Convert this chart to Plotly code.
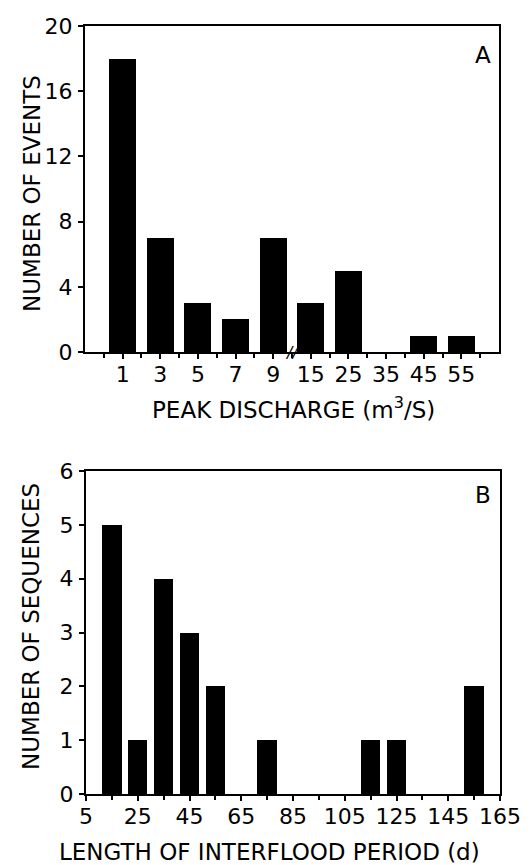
import plotly.graph_objects as go

# ---- Data ----
discharge_labels = ["1", "3", "5", "7", "9", "15", "25", "35", "45", "55"]
discharge_counts = [18, 7, 3, 2, 7, 3, 5, 0, 1, 1]

interflood_days = [15, 25, 35, 45, 55, 65, 75, 85, 95, 105, 115, 125, 135, 145, 155]
interflood_counts = [5, 1, 4, 3, 2, 0, 1, 0, 0, 0, 1, 1, 0, 0, 2]

yticks_a = [0, 4, 8, 12, 16, 20]
yticks_b = [0, 1, 2, 3, 4, 5, 6]
xticks_b = [5, 25, 45, 65, 85, 105, 125, 145, 165]

FONT = "DejaVu Sans"
W, H = 530, 865

pos_a = list(range(len(discharge_labels)))

fig = go.Figure()
fig.add_trace(go.Bar(x=pos_a, y=discharge_counts, width=0.72,
                     marker=dict(color="black", line=dict(width=0)),
                     xaxis="x", yaxis="y", showlegend=False))
fig.add_trace(go.Bar(x=interflood_days, y=interflood_counts, width=7.5,
                     marker=dict(color="black", line=dict(width=0)),
                     xaxis="x2", yaxis="y2", showlegend=False))

def px_x(p):
    return p / W

def px_y(p):
    return 1 - p / H

axis_common = dict(showline=True, linecolor="black", linewidth=2, mirror=True,
                   showgrid=False, zeroline=False, ticks="outside", ticklen=5,
                   tickwidth=1.5, tickcolor="black", automargin=False,
                   tickfont=dict(family=FONT, size=22, color="black"))
x_extra = dict(ticklabelstandoff=-3)

fig.update_layout(
    width=W, height=H, template="none",
    paper_bgcolor="white", plot_bgcolor="white",
    margin=dict(l=0, r=0, t=0, b=0),
    bargap=0,
    xaxis=dict(domain=[px_x(77), px_x(491)], range=[-1, 10], anchor="y",
               tickmode="array", tickvals=pos_a, ticktext=discharge_labels,
               minor=dict(tickmode="array",
                          tickvals=[p - 0.5 for p in pos_a] + [pos_a[-1] + 0.5],
                          ticks="outside", ticklen=4, tickwidth=1.5, tickcolor="black"),
               **x_extra, **axis_common),
    yaxis=dict(domain=[px_y(344), px_y(18)], range=[0, 20], anchor="x",
               tickmode="array", tickvals=yticks_a, ticklabelstandoff=1, **axis_common),
    xaxis2=dict(domain=[px_x(78), px_x(492)], range=[5, 165], anchor="y2",
                tickmode="array", tickvals=xticks_b,
                minor=dict(tickmode="array",
                           tickvals=[v + 10 for v in xticks_b[:-1]],
                           ticks="outside", ticklen=4, tickwidth=1.5, tickcolor="black"),
                **x_extra, **axis_common),
    yaxis2=dict(domain=[px_y(786), px_y(463)], range=[0, 6], anchor="x2",
                tickmode="array", tickvals=yticks_b, ticklabelstandoff=1, **axis_common),
)

title_font = dict(family=FONT, size=23, color="black")
annotations = [
    dict(text="NUMBER OF EVENTS", x=px_x(24), y=px_y(186), xref="paper", yref="paper",
         textangle=-90, showarrow=False, font=title_font, xanchor="center", yanchor="middle"),
    dict(text="PEAK DISCHARGE (m<sup>3</sup>/S)", x=px_x(285), y=px_y(400), xref="paper", yref="paper",
         showarrow=False, font=title_font, xanchor="center", yanchor="middle"),
    dict(text="NUMBER OF SEQUENCES", x=px_x(23), y=px_y(619), xref="paper", yref="paper",
         textangle=-90, showarrow=False, font=title_font, xanchor="center", yanchor="middle"),
    dict(text="LENGTH OF INTERFLOOD PERIOD (d)", x=px_x(261), y=px_y(844), xref="paper", yref="paper",
         showarrow=False, font=title_font, xanchor="center", yanchor="middle"),
    dict(text="A", x=px_x(475), y=px_y(47), xref="paper", yref="paper",
         showarrow=False, font=dict(family=FONT, size=23, color="black"),
         xanchor="center", yanchor="middle"),
    dict(text="B", x=px_x(475), y=px_y(487), xref="paper", yref="paper",
         showarrow=False, font=dict(family=FONT, size=23, color="black"),
         xanchor="center", yanchor="middle"),
    dict(text="<i>//</i>", x=4.5, y=0, xref="x", yref="y", showarrow=False,
         font=dict(family=FONT, size=16, color="black"), xanchor="center", yanchor="middle"),
]
fig.update_layout(annotations=annotations)

fig.write_html("out.html")
